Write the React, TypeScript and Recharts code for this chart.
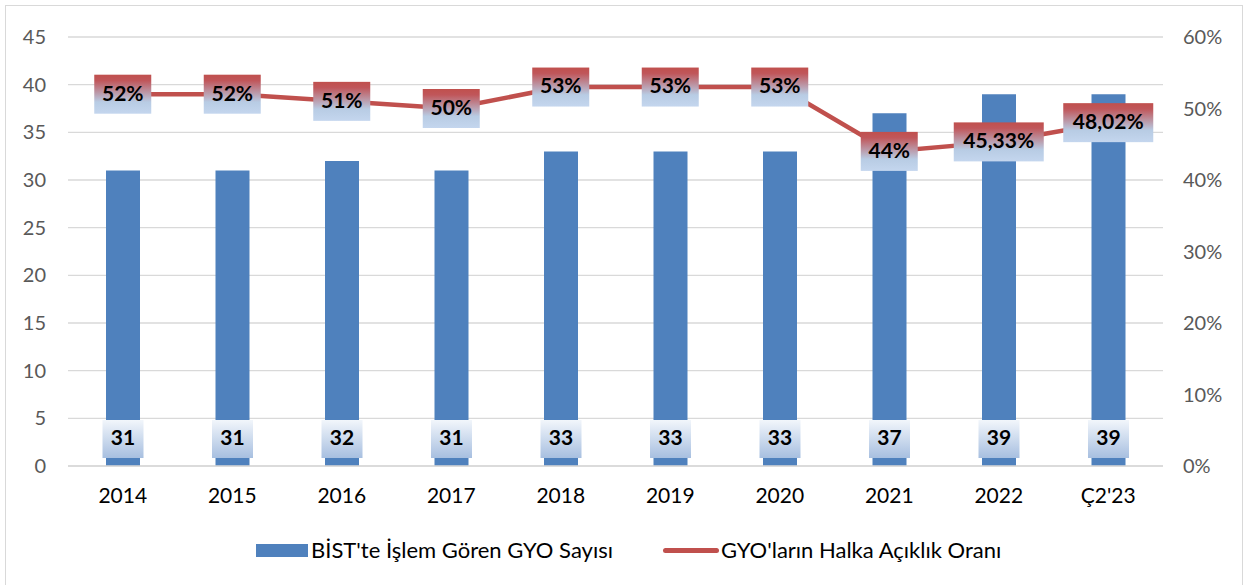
import { ComposedChart, Bar, Line, XAxis, YAxis, CartesianGrid, LabelList } from "recharts"

const years = ["2014", "2015", "2016", "2017", "2018", "2019", "2020", "2021", "2022", "Ç2'23"]
const gyoCount = [31, 31, 32, 31, 33, 33, 33, 37, 39, 39]
const floatRate = [0.52, 0.52, 0.51, 0.5, 0.53, 0.53, 0.53, 0.44, 0.4533, 0.4802]
const leftTicks = [0, 5, 10, 15, 20, 25, 30, 35, 40, 45]
const rightTicks = [0, 0.1, 0.2, 0.3, 0.4, 0.5, 0.6]

const data = years.map((year, i) => ({ year, count: gyoCount[i], rate: floatRate[i] }))

const FONT = "Lato, 'Noto Sans', sans-serif"

function pctText(v: number) {
  const p = Math.round(v * 10000) / 100
  return Number.isInteger(p) ? `${p}%` : `${p.toFixed(2).replace(".", ",")}%`
}

function RateLabel(props: any) {
  const { x, y, value } = props
  const text = pctText(value)
  const w = text.length * 11 + 24
  const h = 39
  return (
    <g>
      <rect x={x - w / 2} y={y - h / 2} width={w} height={h} fill="url(#rateGrad)" />
      <text x={x} y={y + 1} textAnchor="middle" dominantBaseline="middle" fontFamily={FONT} fontWeight={700} fontSize={21} fill="#000">
        {text}
      </text>
    </g>
  )
}

function CountLabel(props: any) {
  const { x, y, width, height, value } = props
  const text = String(value)
  const w = text.length * 11 + 19
  const h = 38
  const cx = x + width / 2
  const bottom = y + height - 8
  return (
    <g>
      <rect x={cx - w / 2} y={bottom - h} width={w} height={h} fill="url(#countGrad)" />
      <text x={cx} y={bottom - h / 2 + 1} textAnchor="middle" dominantBaseline="middle" fontFamily={FONT} fontWeight={700} fontSize={21} fill="#000">
        {text}
      </text>
    </g>
  )
}

export default function App() {
  return (
    <div style={{ position: "fixed", left: 0, top: 0, width: 1253, height: 585, overflow: "hidden", background: "#fff", fontFamily: FONT }}>
      <div style={{ position: "absolute", left: 5, top: 5, width: 1236, height: 600, border: "1px solid #d9d9d9" }} />
      <ComposedChart width={1253} height={585} data={data} margin={{ top: 37, right: 0, bottom: 0, left: 0 }} barCategoryGap={0}>
        <defs>
          <linearGradient id="rateGrad" x1="0" y1="0" x2="0" y2="1">
            <stop offset="0%" stopColor="#c0504d" />
            <stop offset="15%" stopColor="#c0565a" />
            <stop offset="70%" stopColor="#b8cce4" />
            <stop offset="100%" stopColor="#c4d6ee" />
          </linearGradient>
          <linearGradient id="countGrad" x1="0" y1="0" x2="0" y2="1">
            <stop offset="0%" stopColor="#f2f6fb" />
            <stop offset="100%" stopColor="#a7bfe0" />
          </linearGradient>
        </defs>
        <CartesianGrid yAxisId="left" vertical={false} stroke="#d9d9d9" strokeWidth={1.3} />
        <XAxis
          dataKey="year"
          height={119}
          axisLine={{ stroke: "#d9d9d9", strokeWidth: 1.3 }}
          tickLine={false}
          tickMargin={16}
          tick={{ fill: "#000", fontSize: 21, fontFamily: FONT }}
        />
        <YAxis
          yAxisId="left"
          domain={[0, 45]}
          ticks={leftTicks}
          width={68}
          axisLine={false}
          tickLine={false}
          tickMargin={16}
          tick={{ fill: "#595959", fontSize: 20, fontFamily: FONT }}
        />
        <YAxis
          yAxisId="right"
          orientation="right"
          domain={[0, 0.6]}
          ticks={rightTicks}
          width={90}
          axisLine={false}
          tickLine={false}
          tickMargin={14}
          tickFormatter={(v: number) => `${Math.round(v * 100)}%`}
          tick={{ fill: "#595959", fontSize: 20, fontFamily: FONT, textAnchor: "start" }}
        />
        <Bar yAxisId="left" dataKey="count" fill="#4f81bd" barSize={34} isAnimationActive={false}>
          <LabelList dataKey="count" content={CountLabel} />
        </Bar>
        <Line
          yAxisId="right"
          dataKey="rate"
          type="linear"
          stroke="#c0504d"
          strokeWidth={4.5}
          dot={false}
          activeDot={false}
          isAnimationActive={false}
        >
          <LabelList dataKey="rate" content={RateLabel} />
        </Line>
      </ComposedChart>
      <div style={{ position: "absolute", top: 536, left: 256, height: 28, display: "flex", alignItems: "center", fontSize: 22, lineHeight: "28px", color: "#000", whiteSpace: "nowrap" }}>
        <span style={{ display: "inline-block", width: 52, height: 13, background: "#4f81bd", marginRight: 3 }} />
        <span>BİST'te İşlem Gören GYO Sayısı</span>
      </div>
      <div style={{ position: "absolute", top: 536, left: 663, height: 28, display: "flex", alignItems: "center", fontSize: 22, lineHeight: "28px", color: "#000", whiteSpace: "nowrap" }}>
        <span style={{ display: "inline-block", width: 56, height: 5, borderRadius: 3, background: "#c0504d", marginRight: 2 }} />
        <span>GYO'ların Halka Açıklık Oranı</span>
      </div>
    </div>
  )
}
